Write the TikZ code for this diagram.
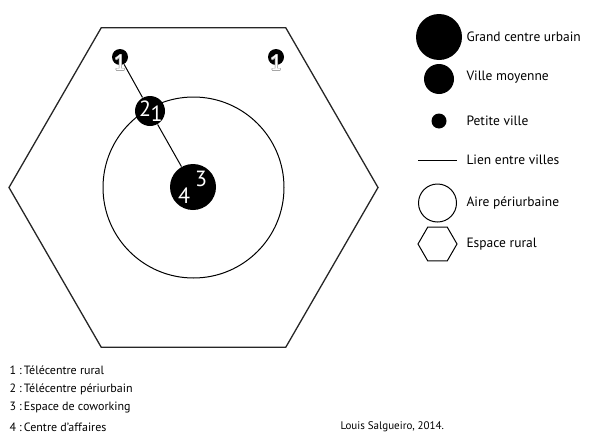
\documentclass[tikz,border=0pt]{standalone}
\usepackage{fontspec}
\setmainfont{PT Sans}
\usepackage{contour}
\contourlength{0.5pt}
\usetikzlibrary{shapes.geometric}

\tikzset{
  ville/.style={circle, fill=black, draw=none, inner sep=0pt},
  chiffre/.style={text=white, inner sep=0pt, font=\fontsize{22}{22}\selectfont},
  legende/.style={anchor=west, inner sep=0pt, font=\fontsize{13.5}{15}\selectfont},
}

\begin{document}
\begin{tikzpicture}[x=1pt, y=-1pt, line width=1pt, font=\fontsize{12}{14}\selectfont]
\useasboundingbox (0,0) rectangle (591,434);

% espace rural et aire periurbaine
\node[regular polygon, regular polygon sides=6, draw=black!85, line width=1.3pt,
  minimum size=369pt, inner sep=0pt] (rural) at (193.5,187.5) {};
\node[circle, draw, minimum size=181pt, inner sep=0pt] (aire) at (193.5,187.5) {};

% villes
\node[ville, minimum size=46pt] (gc) at (193,187) {};
\node[ville, minimum size=30pt] (vm) at (150,111) {};
\node[ville, minimum size=16pt] (pv1) at (120,57) {};
\node[ville, minimum size=16pt] (pv2) at (276,57) {};

% liens entre villes
\draw (pv1) -- (vm);
\draw (vm) -- (gc);

% types de lieux
\node[chiffre] (c4) at (184,196) {4};
\node[chiffre] (c3) at (201,179) {3};
\node[chiffre] (c2) at (145,109) {2};
\node[chiffre] (c1) at (156.5,114) {1};
\node[chiffre] (r1) at (120,63) {\contour{black!35}{1}};
\node[chiffre] (r2) at (276,63) {\contour{black!35}{1}};

% legende
\node[ville, minimum size=46pt] (leggc) at (439,37) {};
\node[legende] (tgc) at (466,37) {Grand centre urbain};
\node[ville, minimum size=30pt] (legvm) at (439,79) {};
\node[legende] (tvm) at (466,77) {Ville moyenne};
\node[ville, minimum size=15pt] (legpv) at (439,121) {};
\node[legende] (tpv) at (466,121) {Petite ville};
\coordinate (lienA) at (418,160);
\coordinate (lienB) at (457,160);
\draw (lienA) -- (lienB);
\node[legende] (tlien) at (466,160) {Lien entre villes};
\node[circle, draw, minimum size=38pt, inner sep=0pt] (legaire) at (437.5,203) {};
\node[legende] (taire) at (466,203) {Aire périurbaine};
\node[regular polygon, regular polygon sides=6, draw, minimum size=39pt,
  inner sep=0pt] (leghex) at (437.5,244) {};
\node[legende] (trural) at (466,244) {Espace rural};

% lieux
\node[anchor=west, inner sep=0pt] (l1) at (9,370) {1 :\,Télécentre rural};
\node[anchor=west, inner sep=0pt] (l2) at (9,389) {2 :\,Télécentre périurbain};
\node[anchor=west, inner sep=0pt] (l3) at (9,408) {3 :\,Espace de coworking};
\node[anchor=west, inner sep=0pt] (l4) at (9,427) {4 :\,Centre d’affaires};

\node[anchor=west, inner sep=0pt, font=\fontsize{11}{12}\selectfont] (credit)
  at (340,427) {Louis Salgueiro, 2014.};

\end{tikzpicture}
\end{document}
